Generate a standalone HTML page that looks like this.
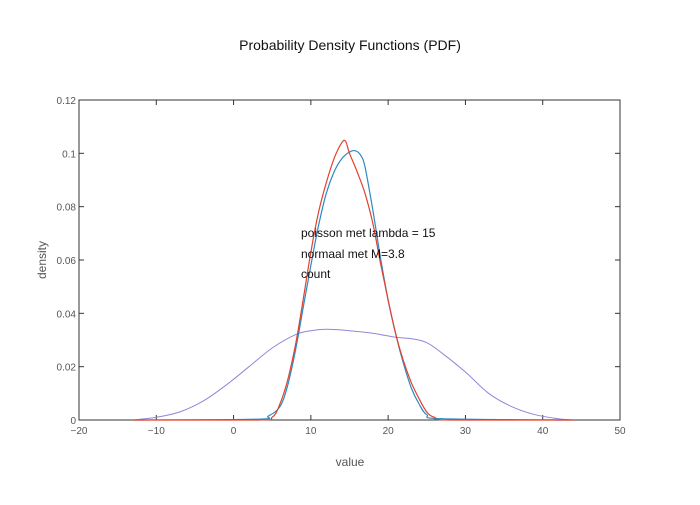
<!DOCTYPE html>
<html><head><meta charset="utf-8"><style>
body{margin:0;background:#fff}
svg text{font-family:"Liberation Sans",sans-serif;}
</style></head><body>
<svg id="s" width="700" height="500" xmlns="http://www.w3.org/2000/svg">
<rect width="700" height="500" fill="#fff"/>
<text x="350" y="50" text-anchor="middle" font-size="14" fill="#111">Probability Density Functions (PDF)</text>
<rect x="79" y="100" width="541" height="320" fill="none" stroke="#333" stroke-width="1"/>
<g id="ticks" stroke="#333" stroke-width="1"></g>
<g id="lab" font-size="10" fill="#555"></g>
<text x="350" y="466" text-anchor="middle" font-size="12" fill="#555">value</text>
<text transform="translate(46,260) rotate(-90)" text-anchor="middle" font-size="12" fill="#555">density</text>
<path id="pu" fill="none" stroke="#9485d8" stroke-width="1"/>
<path id="bl" fill="none" stroke="#2a8ac4" stroke-width="1.2"/>
<path id="re" fill="none" stroke="#e2412c" stroke-width="1.2"/>
<g font-size="12" fill="#111">
<text x="301" y="237">poisson met lambda = 15</text>
<text x="301" y="258">normaal met M=3.8</text>
<text x="301" y="278">count</text>
</g>
</svg>
<script>
const X=v=>79+(v+20)*7.7286, Y=d=>420-d*2666.7;
const ns="http://www.w3.org/2000/svg";
const t=document.getElementById('ticks'),l=document.getElementById('lab');
function el(p,tag,a,txt){const e=document.createElementNS(ns,tag);for(const k in a)e.setAttribute(k,a[k]);if(txt!==undefined)e.textContent=txt;p.appendChild(e);}
for(let v=-20;v<=50;v+=10){const x=X(v);
 if(v>-20&&v<50){el(t,'line',{x1:x,x2:x,y1:420,y2:415});el(t,'line',{x1:x,x2:x,y1:100,y2:105});}
 el(l,'text',{x:x,y:434,'text-anchor':'middle'},v<0?'\u2212'+(-v):''+v);}
const yl=['0','0.02','0.04','0.06','0.08','0.1','0.12'];
for(let i=0;i<=6;i++){const y=Y(i*0.02);
 if(i>0&&i<6){el(t,'line',{x1:79,x2:84,y1:y,y2:y});el(t,'line',{x1:620,x2:615,y1:y,y2:y});}
 el(l,'text',{x:76,y:y+4,'text-anchor':'end'},yl[i]);}
function path(id,pts){
 const P=pts.map(p=>[X(p[0]),Y(p[1])]);
 let d='M'+P[0][0].toFixed(1)+','+P[0][1].toFixed(1);
 for(let i=0;i<P.length-1;i++){
  const p0=P[Math.max(i-1,0)],p1=P[i],p2=P[i+1],p3=P[Math.min(i+2,P.length-1)];
  let c1y=p1[1]+(p2[1]-p0[1])/6, c2y=p2[1]-(p3[1]-p1[1])/6;
  c1y=Math.min(c1y,420);c2y=Math.min(c2y,420);
  d+='C'+(p1[0]+(p2[0]-p0[0])/6).toFixed(1)+','+c1y.toFixed(1)+' '+(p2[0]-(p3[0]-p1[0])/6).toFixed(1)+','+c2y.toFixed(1)+' '+p2[0].toFixed(1)+','+p2[1].toFixed(1);
 }
 document.getElementById(id).setAttribute('d',d);}
path('re',[[-13,0],[3,0],[5,0.001],[6,0.006],[7,0.015],[8,0.028],[9,0.045],[10,0.063],[11,0.078],[12,0.089],[13,0.098],[14,0.104],[14.5,0.1045],[15,0.1],[16,0.093],[17,0.085],[18,0.074],[19,0.059],[20,0.045],[21,0.032],[22,0.022],[23,0.014],[24,0.008],[25,0.003],[26,0.001],[28,0],[44,0]]);
path('bl',[[-13,0],[3,0.0003],[4.5,0.0015],[6,0.005],[7,0.013],[8,0.026],[9,0.042],[10,0.058],[11,0.073],[12,0.085],[13,0.093],[14,0.098],[15,0.1005],[15.7,0.101],[16.4,0.0995],[17,0.095],[18,0.079],[19,0.061],[20,0.045],[21,0.032],[22,0.021],[23,0.012],[24,0.006],[25,0.002],[27,0.0005],[44,0]]);
path('pu',[[-13,0],[-10,0.001],[-7,0.003],[-4,0.007],[-1,0.013],[2,0.02],[5,0.027],[8,0.032],[10,0.0335],[12,0.034],[15,0.0335],[18,0.0325],[21,0.031],[23,0.0305],[25,0.029],[27,0.025],[30,0.018],[33,0.01],[36,0.005],[39,0.002],[42,0.0005],[44,0]]);
</script>
</body></html>
